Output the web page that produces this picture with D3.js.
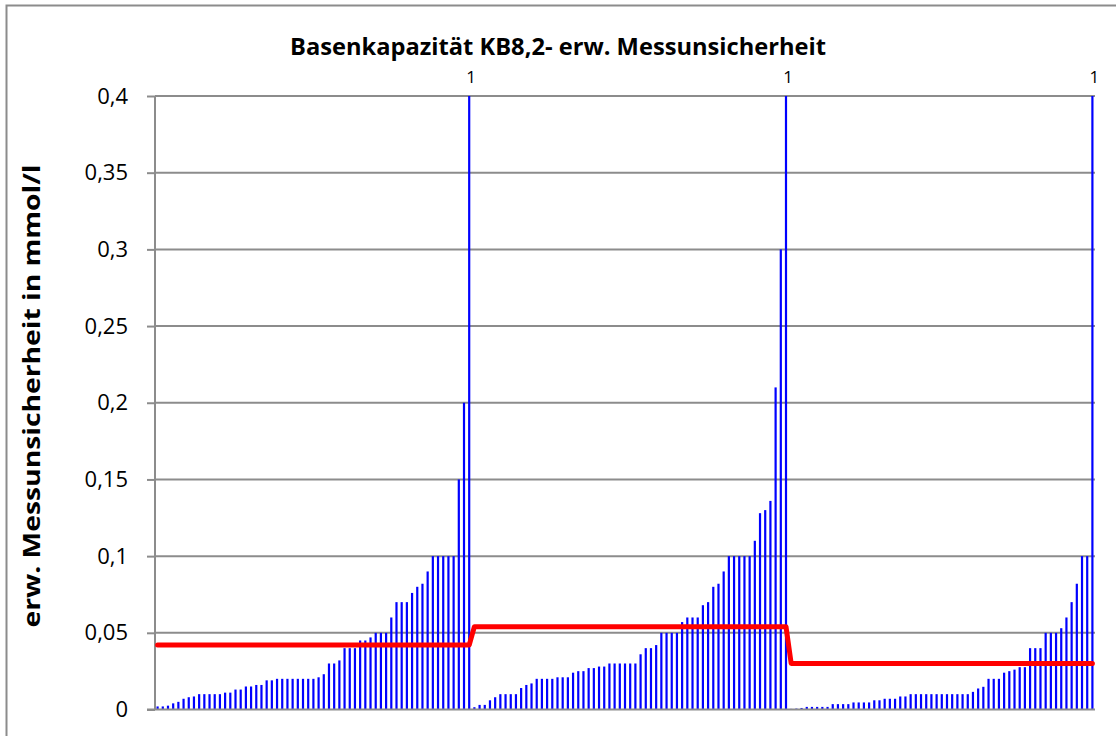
<!DOCTYPE html>
<html>
<head>
<meta charset="utf-8">
<script src="https://cdn.jsdelivr.net/npm/d3@7"></script>
<style>
  body { margin: 0; background: #fff; }
  svg { display: block; }
  text { font-family: "Open Sans", "Noto Sans", sans-serif; fill: #000; }
</style>
</head>
<body>
<svg id="chart" width="1116" height="736"></svg>
<script>
// Expanded measurement uncertainty per sample, sorted within each of three series
const groupA = [
  0.002, 0.002, 0.0025, 0.004, 0.005, 0.007, 0.008, 0.0085, 0.01, 0.01,
  0.01, 0.01, 0.01, 0.011, 0.011, 0.013, 0.013, 0.015, 0.015, 0.016,
  0.016, 0.019, 0.019, 0.02, 0.02, 0.02, 0.02, 0.02, 0.02, 0.02,
  0.02, 0.021, 0.023, 0.03, 0.03, 0.032, 0.04, 0.04, 0.04, 0.045,
  0.045, 0.047, 0.05, 0.05, 0.05, 0.06, 0.07, 0.07, 0.07, 0.076,
  0.08, 0.082, 0.09, 0.1, 0.1, 0.1, 0.1, 0.1, 0.15, 0.2, 1
];
const groupB = [
  0.0015, 0.003, 0.003, 0.006, 0.008, 0.01, 0.01, 0.01, 0.01, 0.014,
  0.016, 0.017, 0.02, 0.02, 0.02, 0.02, 0.021, 0.021, 0.021, 0.024,
  0.025, 0.025, 0.027, 0.027, 0.028, 0.028, 0.03, 0.03,
  0.03, 0.03, 0.03, 0.03, 0.036, 0.04, 0.04, 0.042, 0.05, 0.05,
  0.05, 0.05, 0.057, 0.06, 0.06, 0.06, 0.068, 0.07, 0.08, 0.082,
  0.09, 0.1, 0.1, 0.1, 0.1, 0.1, 0.11, 0.128, 0.13, 0.136, 0.21, 0.3, 1
];
const groupC = [
  0.0004, 0.0006, 0.001, 0.0017, 0.0017, 0.0017, 0.0017, 0.0017, 0.0035, 0.0035,
  0.0035, 0.0035, 0.0046, 0.0046, 0.0046, 0.0046, 0.006, 0.006, 0.007, 0.007,
  0.007, 0.0085, 0.0085,
  0.01, 0.01, 0.01, 0.01, 0.01, 0.01, 0.01, 0.01, 0.01, 0.01, 0.01, 0.01,
  0.0115, 0.0137, 0.0148, 0.02, 0.02, 0.02, 0.024, 0.025, 0.026, 0.0276,
  0.0276, 0.04, 0.04, 0.04, 0.05, 0.05, 0.05, 0.053, 0.06, 0.07,
  0.082, 0.1, 0.1, 1
];
// Mean uncertainty of each series (drawn as the red line)
const groupMeans = [0.042, 0.054, 0.03];

const yTicks = [0, 0.05, 0.1, 0.15, 0.2, 0.25, 0.3, 0.35, 0.4];
const chartTitle = "Basenkapazität KB8,2- erw. Messunsicherheit";
const yAxisTitle = "erw. Messunsicherheit in mmol/l";

// Flatten into one category sequence
const groups = [groupA, groupB, groupC];
const rows = [];
groups.forEach((g, gi) => g.forEach(v => rows.push({ i: rows.length, value: v, mean: groupMeans[gi] })));

const svg = d3.select("#chart");
const W = 1116, H = 736;
const margin = { left: 155, right: 21, top: 96, bottom: 26.5 };
const plotW = W - margin.left - margin.right;
const plotH = H - margin.top - margin.bottom;

// Outer chart frame
svg.append("rect")
  .attr("x", 6.5).attr("y", 5.5)
  .attr("width", W + 20).attr("height", H + 20)
  .attr("fill", "none").attr("stroke", "#8c8c8c").attr("stroke-width", 2);

const x = d3.scaleBand().domain(rows.map(d => d.i)).range([0, plotW]).paddingInner(0).paddingOuter(0);
const y = d3.scaleLinear().domain([0, 0.4]).range([plotH, 0]);
const fmt = d3.formatLocale({ decimal: ",", thousands: ".", grouping: [3], currency: ["", "€"] }).format("~g");

const g = svg.append("g").attr("transform", `translate(${margin.left},${margin.top})`);

// Horizontal gridlines
g.append("g")
  .selectAll("line")
  .data(yTicks.filter(t => t > 0))
  .join("line")
  .attr("x1", 0).attr("x2", plotW)
  .attr("y1", d => y(d)).attr("y2", d => y(d))
  .attr("stroke", "#8c8c8c").attr("stroke-width", 2);

// Bars (clipped at the top of the plot area)
g.append("clipPath").attr("id", "plotClip")
  .append("rect").attr("x", 0).attr("y", 0).attr("width", plotW).attr("height", plotH);

const barW = 2.2;
g.append("g").attr("clip-path", "url(#plotClip)")
  .selectAll("rect")
  .data(rows)
  .join("rect")
  .attr("x", d => x(d.i) + x.bandwidth() / 2 - barW / 2)
  .attr("width", barW)
  .attr("y", d => y(Math.min(d.value, 0.41)))
  .attr("height", d => plotH - y(Math.min(d.value, 0.41)))
  .attr("fill", "#0000ff");

// Y axis
const yAxis = d3.axisLeft(y).tickValues(yTicks).tickFormat(fmt).tickSize(8).tickPadding(19);
const ya = g.append("g").call(yAxis);
ya.select(".domain").attr("stroke", "#8c8c8c").attr("stroke-width", 2).attr("d", `M0,${plotH}V0`);
ya.selectAll(".tick line").attr("stroke", "#8c8c8c").attr("stroke-width", 2);
ya.selectAll(".tick text").style("font-size", "22px").attr("fill", "#000");

// X axis baseline
g.append("line")
  .attr("x1", -8).attr("x2", plotW)
  .attr("y1", plotH).attr("y2", plotH)
  .attr("stroke", "#8c8c8c").attr("stroke-width", 2);

// Mean line
const line = d3.line()
  .x(d => x(d.i) + x.bandwidth() / 2)
  .y(d => y(d.mean));
g.append("path")
  .datum(rows)
  .attr("d", line)
  .attr("fill", "none")
  .attr("stroke", "#ff0000")
  .attr("stroke-width", 5)
  .attr("stroke-linejoin", "round")
  .attr("stroke-linecap", "round");

// Value labels for bars that exceed the axis range
g.append("g")
  .selectAll("text")
  .data(rows.filter(d => d.value > 0.4))
  .join("text")
  .attr("x", d => x(d.i) + x.bandwidth() / 2 + 2)
  .attr("y", -13)
  .attr("text-anchor", "middle")
  .style("font-size", "17px")
  .text(d => fmt(d.value));

// Titles
svg.append("text")
  .attr("x", 558).attr("y", 55)
  .attr("text-anchor", "middle")
  .attr("textLength", 536).attr("lengthAdjust", "spacingAndGlyphs")
  .style("font-size", "23px").style("font-weight", "bold")
  .text(chartTitle);

svg.append("text")
  .attr("transform", `translate(40,${396}) rotate(-90)`)
  .attr("text-anchor", "middle")
  .attr("textLength", 463).attr("lengthAdjust", "spacingAndGlyphs")
  .style("font-size", "24px").style("font-weight", "bold")
  .text(yAxisTitle);
</script>
</body>
</html>
